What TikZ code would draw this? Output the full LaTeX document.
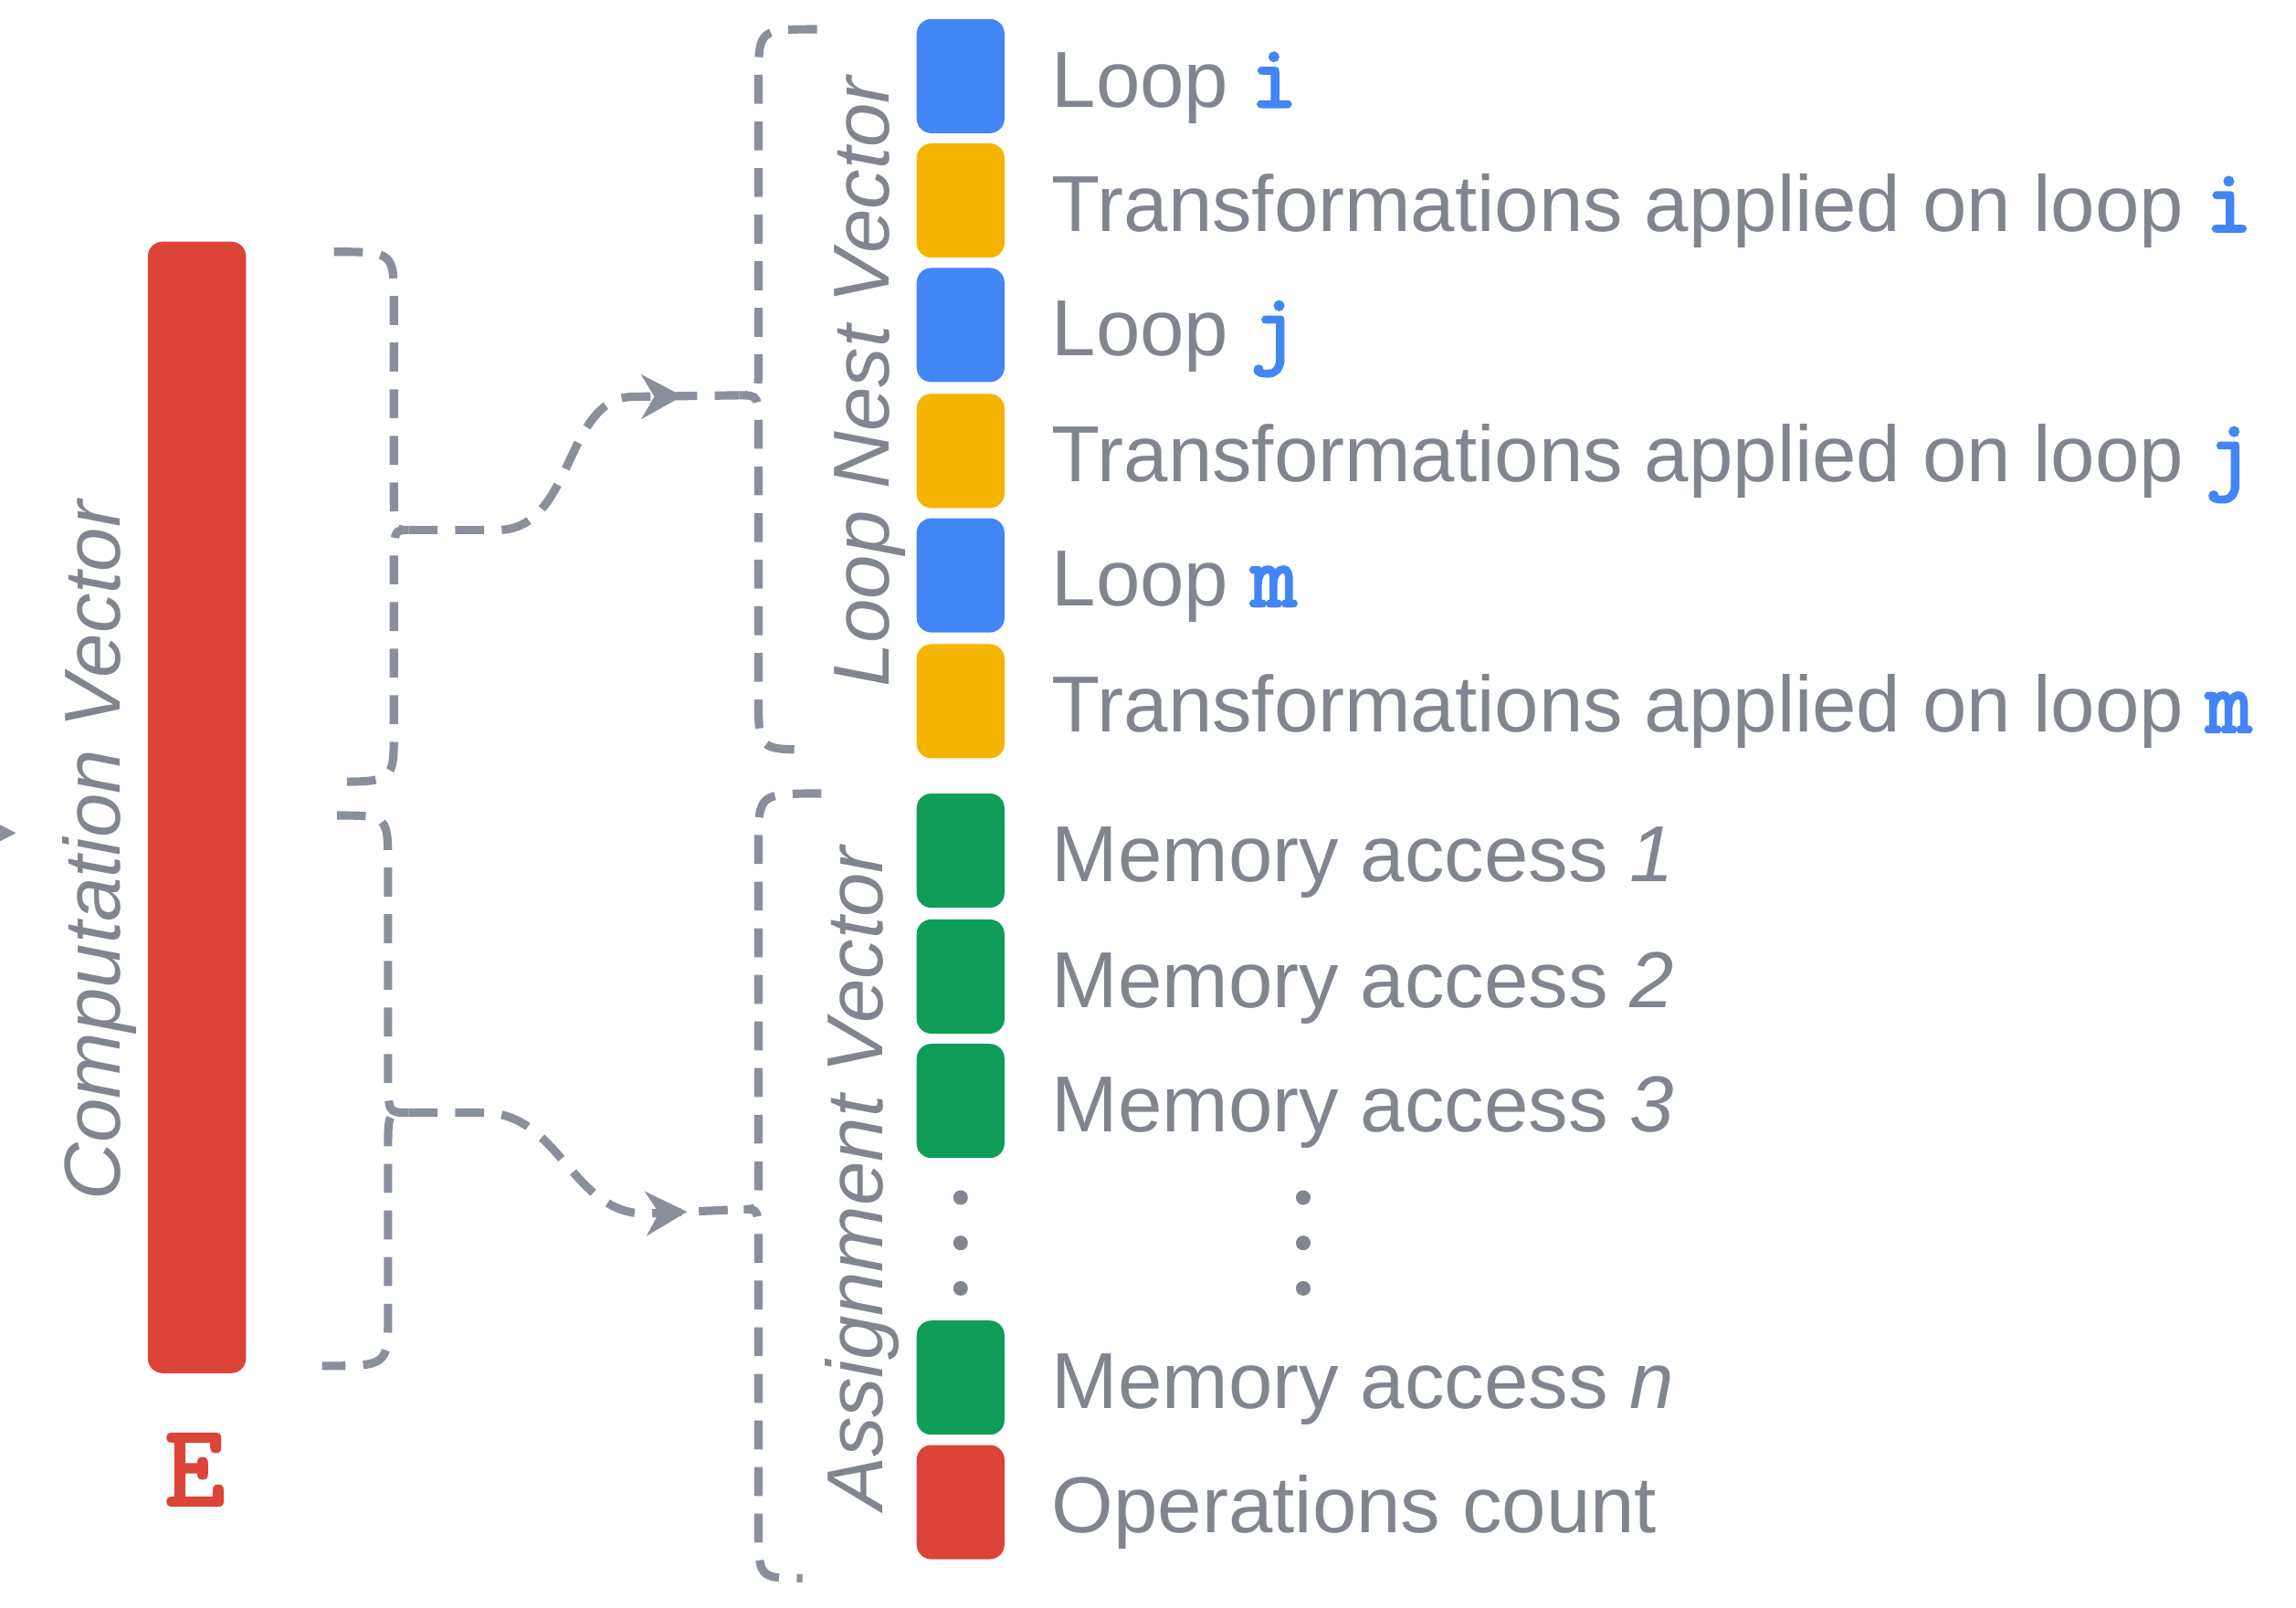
\documentclass[tikz,border=0pt]{standalone}
\usepackage{fontspec}
\setmainfont{Liberation Sans}
\newfontfamily\codefont[FakeBold=3]{Latin Modern Mono}
\usepackage{tikz}
\usetikzlibrary{positioning,arrows.meta,decorations.markings}
\definecolor{gblue}{HTML}{4285F4}
\definecolor{gyellow}{HTML}{F4B400}
\definecolor{ggreen}{HTML}{0F9D58}
\definecolor{gred}{HTML}{DB4437}
\definecolor{txtgray}{HTML}{80858F}
\definecolor{linegray}{HTML}{8A8F9C}
\newcommand{\lblfont}{\fontsize{24.7}{30}\selectfont}
\newcommand{\var}[1]{{\fontsize{28}{30}\selectfont\codefont\color{gblue}#1}}

\begin{document}
\begin{tikzpicture}[x=0.016cm, y=0.016cm, every node/.style={text=txtgray, font=\lblfont}]
      \tikzset{
	  cell/.style={rectangle, rounded corners=0.16cm, minimum width=0.96cm, minimum height=1.248cm, inner sep=0pt},
	  rowtext/.style={anchor=base west, inner sep=0pt},
	  vlabel/.style={rotate=90, anchor=base, inner sep=0pt, font=\lblfont\itshape},
	  bracepath/.style={draw=linegray, line width=2.6pt, dash pattern=on 9pt off 5.5pt},
	  flow/.style={bracepath, postaction={decorate}, decoration={markings, mark=at position -0.62cm with {\arrow[linegray]{Stealth[length=0.45cm, width=0.48cm, inset=0.14cm]}}}}
      }
      \useasboundingbox (0,0) rectangle (1568,1098);

      % computation vector
      \node at (134.5, 546.5) [rectangle, rounded corners=0.16cm, fill=gred, minimum width=1.072cm, minimum height=12.37cm] (cvec) {};
      \node at (82, 517) [vlabel] (cvlabel) {Computation Vector};
      \node at (133, 70) [anchor=base, inner sep=0pt, text=gred, font=\fontsize{36}{40}\selectfont\codefont] (ename) {E};
      \coordinate (offleft) at (-30, 529);
      \coordinate (inarr) at (11, 529);
      \draw[draw=linegray, line width=2pt, -{Stealth[length=0.2cm, width=0.2cm, inset=0.04cm, linegray]}] (offleft) -- (inarr);

      % braces on the left
      \coordinate (cv1) at (279, 736);
      \coordinate (cv2) at (279, 338);
      \draw[bracepath] (228,926) .. controls (269,926) .. (269,891) -- (269,762) .. controls (269,736) .. (cv1) .. controls (269,736) .. (269,710) -- (269,599) .. controls (269,564) .. (226,564);
      \draw[bracepath] (230,541) .. controls (265,541) .. (265,506) -- (265,364) .. controls (265,338) .. (cv2) .. controls (265,338) .. (265,312) -- (265,200) .. controls (265,165) .. (220,165);

      % braces on the right
      \coordinate (lnv) at (505, 828);
      \coordinate (asv) at (508, 272);
      \draw[bracepath] (558,1078) .. controls (518,1078) .. (518,1043) -- (518,852) .. controls (518,828) .. (lnv) .. controls (518,828) .. (518,804) -- (518,621) .. controls (518,586) .. (554,586);
      \draw[bracepath] (561,556) .. controls (518,556) .. (518,521) -- (518,296) .. controls (518,272) .. (asv) .. controls (518,272) .. (518,248) -- (518,55) .. controls (518,20) .. (548,20);

      \node at (607, 837) [vlabel] (lnvlabel) {Loop Nest Vector};
      \node at (603, 293) [vlabel] (asvlabel) {Assignment Vector};

      % connectors
      \draw[flow] (cv1) -- (340,736) .. controls (392,736) and (385,826) .. (432,827) -- (lnv);
      \draw[flow] (cv2) -- (330,338) .. controls (382,338) and (390,270) .. (440,269) -- (asv);

      % loop nest rows
      \node at (656, 1046) [cell, fill=gblue] (r1) {};
      \node at (656, 961) [cell, fill=gyellow] (r2) {};
      \node at (656, 876) [cell, fill=gblue] (r3) {};
      \node at (656, 790) [cell, fill=gyellow] (r4) {};
      \node at (656, 705) [cell, fill=gblue] (r5) {};
      \node at (656, 619) [cell, fill=gyellow] (r6) {};
      \node at (718, 1025) [rowtext] (t1) {Loop \var{i}};
      \node at (718, 940) [rowtext] (t2) {Transformations applied on loop \var{i}};
      \node at (718, 855) [rowtext] (t3) {Loop \var{j}};
      \node at (718, 769) [rowtext] (t4) {Transformations applied on loop \var{j}};
      \node at (718, 684) [rowtext] (t5) {Loop \var{m}};
      \node at (718, 598) [rowtext] (t6) {Transformations applied on loop \var{m}};

      % assignment rows
      \node at (656, 517) [cell, fill=ggreen] (r7) {};
      \node at (656, 431) [cell, fill=ggreen] (r8) {};
      \node at (656, 346) [cell, fill=ggreen] (r9) {};
      \node at (656, 157) [cell, fill=ggreen] (r10) {};
      \node at (656, 72) [cell, fill=gred] (r11) {};
      \node at (718, 496) [rowtext] (t7) {Memory access \textit{1}};
      \node at (718, 410) [rowtext] (t8) {Memory access \textit{2}};
      \node at (718, 325) [rowtext] (t9) {Memory access \textit{3}};
      \node at (718, 136) [rowtext] (t10) {Memory access \textit{n}};
      \node at (718, 51) [rowtext] (t11) {Operations count};

      % dots
      \fill[txtgray] (656,280) circle (0.08cm) (656,249) circle (0.08cm) (656,218) circle (0.08cm);
      \fill[txtgray] (890,280) circle (0.08cm) (890,249) circle (0.08cm) (890,218) circle (0.08cm);
\end{tikzpicture}
\end{document}
